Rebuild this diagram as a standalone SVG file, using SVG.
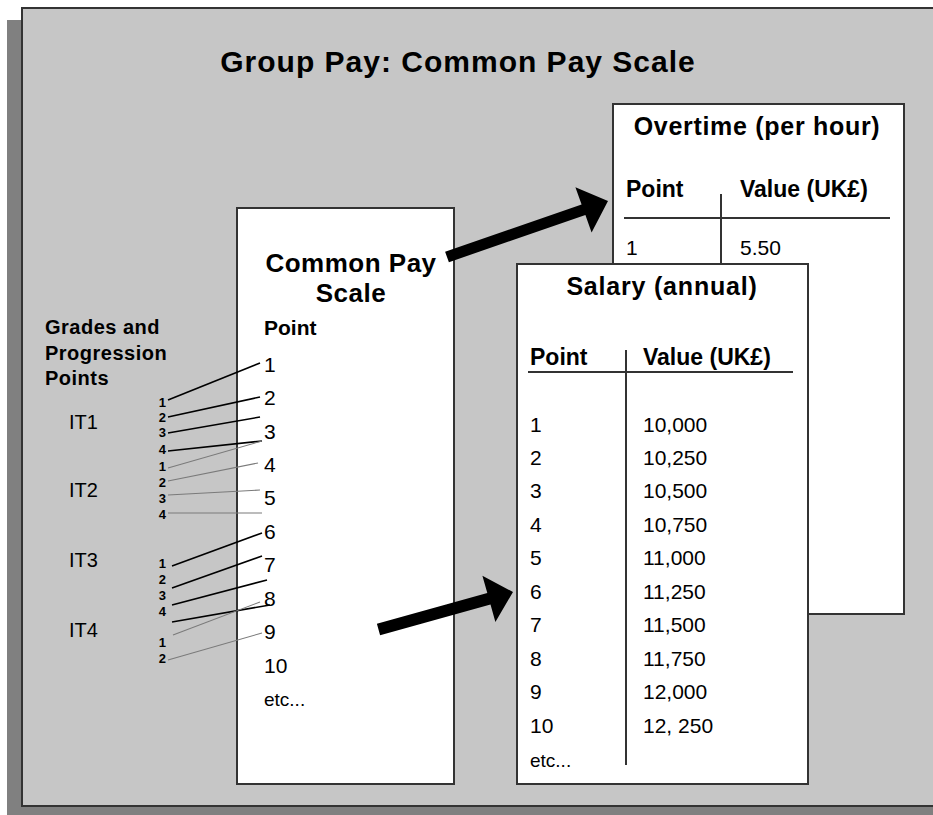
<svg xmlns="http://www.w3.org/2000/svg" width="933" height="815" viewBox="0 0 933 815">
<style>
text{font-family:"Liberation Sans",Arial,sans-serif;fill:#000}
.t{font-weight:bold}
.b{font-weight:bold}
.r{font-size:21px}
.sm{font-size:13px;font-weight:bold;text-anchor:end}
.box{fill:#fff;stroke:#333;stroke-width:2}
.blk{stroke:#000;stroke-width:1.6;fill:none}
.gry{stroke:#7a7a7a;stroke-width:1.1;fill:none}
.rule{stroke:#333;stroke-width:2;fill:none}
.arrow{fill:#000}
</style>
<rect width="933" height="815" fill="#fff"/>
<g id="frame">
<rect x="7" y="20" width="926" height="795" fill="#808080"/>
<rect x="22" y="8" width="920" height="798" fill="#c6c6c6" stroke="#333" stroke-width="2"/>
<text x="458" y="72" text-anchor="middle" class="t" style="font-size:30px;letter-spacing:1px">Group Pay: Common Pay Scale</text>
</g>
<g id="grades">
<text x="45" y="334" class="b" style="font-size:20px;letter-spacing:0.5px">Grades and</text>
<text x="45" y="360" class="b" style="font-size:20px;letter-spacing:0.5px">Progression</text>
<text x="45" y="385" class="b" style="font-size:20px;letter-spacing:0.5px">Points</text>
<text x="69" y="429" style="font-size:20px">IT1</text>
<text x="69" y="497" style="font-size:20px">IT2</text>
<text x="69" y="567" style="font-size:20px">IT3</text>
<text x="69" y="637" style="font-size:20px">IT4</text>
<text x="166" y="407" class="sm">1</text>
<text x="166" y="422" class="sm">2</text>
<text x="166" y="437" class="sm">3</text>
<text x="166" y="454" class="sm">4</text>
<text x="166" y="471" class="sm">1</text>
<text x="166" y="487" class="sm">2</text>
<text x="166" y="503" class="sm">3</text>
<text x="166" y="519" class="sm">4</text>
<text x="166" y="568" class="sm">1</text>
<text x="166" y="584" class="sm">2</text>
<text x="166" y="600" class="sm">3</text>
<text x="166" y="616" class="sm">4</text>
<text x="166" y="647" class="sm">1</text>
<text x="166" y="663" class="sm">2</text>
</g>
<g id="common-pay-scale">
<rect x="237" y="208" width="217" height="576" class="box"/>
<text x="351" y="272" text-anchor="middle" class="t" style="font-size:26px;letter-spacing:0.5px">Common Pay</text>
<text x="351" y="302" text-anchor="middle" class="t" style="font-size:26px;letter-spacing:0.5px">Scale</text>
<text x="264" y="335" class="b" style="font-size:21px">Point</text>
<text x="264" y="372" class="r">1</text>
<text x="264" y="405" class="r">2</text>
<text x="264" y="439" class="r">3</text>
<text x="264" y="472" class="r">4</text>
<text x="264" y="505" class="r">5</text>
<text x="264" y="539" class="r">6</text>
<text x="264" y="572" class="r">7</text>
<text x="264" y="606" class="r">8</text>
<text x="264" y="639" class="r">9</text>
<text x="264" y="673" class="r">10</text>
<text x="264" y="706" style="font-size:19px">etc...</text>
</g>
<g id="overtime">
<rect x="613" y="104" width="291" height="510" class="box"/>
<text x="757" y="135" text-anchor="middle" class="t" style="font-size:25px;letter-spacing:0.7px">Overtime (per hour)</text>
<text x="626" y="197" class="b" style="font-size:23px">Point</text>
<text x="740" y="197" class="b" style="font-size:23px">Value (UK£)</text>
<line x1="624" y1="218" x2="890" y2="218" class="rule"/>
<line x1="721" y1="194" x2="721" y2="264" class="rule"/>
<text x="626" y="255" class="r">1</text>
<text x="740" y="255" class="r">5.50</text>
</g>
<g id="salary">
<rect x="517" y="264" width="291" height="520" class="box"/>
<text x="662" y="295" text-anchor="middle" class="t" style="font-size:25px;letter-spacing:0.8px">Salary (annual)</text>
<text x="530" y="365" class="b" style="font-size:23px">Point</text>
<text x="643" y="365" class="b" style="font-size:23px">Value (UK£)</text>
<line x1="528" y1="372" x2="793" y2="372" class="rule"/>
<line x1="626" y1="350" x2="626" y2="765" class="rule"/>
<text x="530" y="432" class="r">1</text><text x="643" y="432" class="r">10,000</text>
<text x="530" y="465" class="r">2</text><text x="643" y="465" class="r">10,250</text>
<text x="530" y="498" class="r">3</text><text x="643" y="498" class="r">10,500</text>
<text x="530" y="532" class="r">4</text><text x="643" y="532" class="r">10,750</text>
<text x="530" y="565" class="r">5</text><text x="643" y="565" class="r">11,000</text>
<text x="530" y="599" class="r">6</text><text x="643" y="599" class="r">11,250</text>
<text x="530" y="632" class="r">7</text><text x="643" y="632" class="r">11,500</text>
<text x="530" y="666" class="r">8</text><text x="643" y="666" class="r">11,750</text>
<text x="530" y="699" class="r">9</text><text x="643" y="699" class="r">12,000</text>
<text x="530" y="733" class="r">10</text><text x="643" y="733" class="r">12, 250</text>
<text x="530" y="767" style="font-size:19px">etc...</text>
</g>
<g id="connectors">
<line x1="168" y1="400" x2="260" y2="363" class="blk"/>
<line x1="168" y1="417" x2="260" y2="397" class="blk"/>
<line x1="168" y1="433" x2="260" y2="417" class="blk"/>
<line x1="168" y1="451" x2="262" y2="441" class="blk" stroke-width="2"/>
<line x1="168" y1="468" x2="262" y2="441" class="gry"/>
<line x1="168" y1="481" x2="258" y2="463" class="gry"/>
<line x1="168" y1="495" x2="260" y2="490" class="gry"/>
<line x1="168" y1="513" x2="262" y2="513" class="gry"/>
<line x1="172" y1="566" x2="262" y2="533" class="blk"/>
<line x1="172" y1="588" x2="262" y2="556" class="blk"/>
<line x1="172" y1="605" x2="267" y2="580" class="blk"/>
<line x1="172" y1="622" x2="270" y2="605" class="blk" stroke-width="2"/>
<line x1="173" y1="635" x2="260" y2="602" class="gry"/>
<line x1="168" y1="660" x2="262" y2="633" class="gry"/>
<polygon class="arrow" points="445.1,251.8 581.6,204.6 575.4,187.2 608,201 591.6,232.4 585.4,215 448.9,262.2"/>
<polygon class="arrow" points="376.9,623.7 487.3,593 482.4,575.7 513,592 495.4,621.9 490.5,604.6 380.1,635.3"/>
</g>
</svg>
